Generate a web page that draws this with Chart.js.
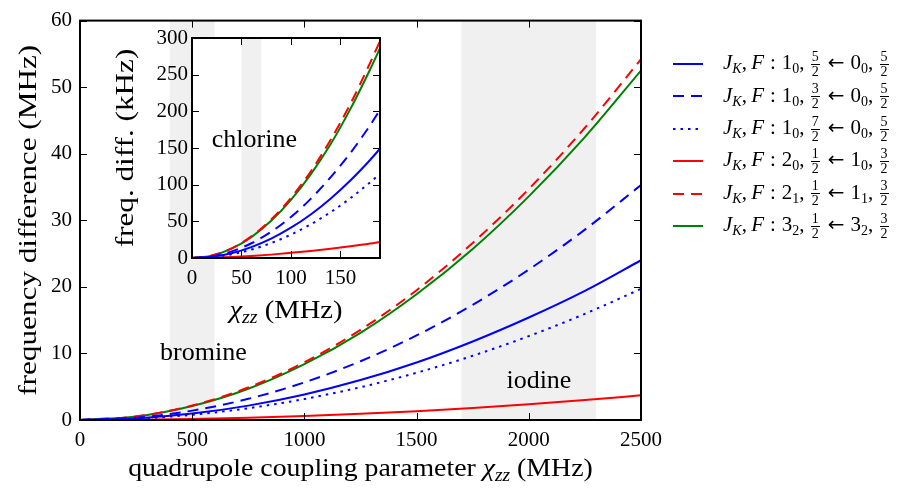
<!DOCTYPE html>
<html>
<head>
<meta charset="utf-8">
<script src="https://cdn.jsdelivr.net/npm/chart.js@4.4.1/dist/chart.umd.min.js"></script>
<style>
    body { margin: 0; background: #fff; }
    #wrap { position: relative; width: 901px; height: 491px; overflow: hidden; }
    #mainChart { position: absolute; left: 0; top: 0; }
    #insetChart { position: absolute; left: 110px; top: 20px; }
    #legend { position: absolute; left: 0; top: 0; font-family: 'Liberation Serif', serif; font-size: 21px; color: #000; }
    .row { position: absolute; left: 673px; height: 30px; display: flex; align-items: center; white-space: nowrap; }
    .row svg { width: 30px; height: 6px; margin-right: 20px; }
    .row sub { font-size: 14px; vertical-align: -4px; }
    .fr { display: inline-flex; flex-direction: column; align-items: center; font-size: 14px; line-height: 12px; vertical-align: middle; margin: 0 2px; }
    .fr span:first-child { border-bottom: 1px solid #000; padding: 0 1px 1px; }
    .fr span:last-child { padding-top: 1px; }
    .arr { font-family: 'DejaVu Sans', sans-serif; font-size: 20px; margin: 0 6px; }
    .col { margin: 0 6px; }
</style>
</head>
<body>
<div id="wrap">
    <canvas id="mainChart" width="901" height="491"></canvas>
    <canvas id="insetChart" width="285" height="305"></canvas>
    <div id="legend"></div>
</div>
<script>
// main plot: frequency difference (MHz) vs chi_zz (MHz)
const mainX = [0, 250, 500, 750, 1000, 1250, 1500, 1750, 2000, 2250, 2500];
const main10_52 = [0, 0.24, 0.96, 2.16, 3.84, 6.0, 8.64, 11.8, 15.4, 19.4, 24.0];
const main10_32 = [0, 0.35, 1.41, 3.18, 5.65, 8.83, 12.7, 17.3, 22.6, 28.6, 35.3];
const main10_72 = [0, 0.2, 0.79, 1.77, 3.15, 4.93, 7.1, 9.65, 12.6, 15.95, 19.7];
const main20_12 = [0, 0.04, 0.15, 0.33, 0.59, 0.93, 1.33, 1.81, 2.37, 3.0, 3.7];
const main21_12 = [0, 0.54, 2.17, 4.88, 8.67, 13.55, 19.5, 26.6, 34.7, 43.9, 54.2];
const main32_12 = [0, 0.52, 2.1, 4.7, 8.4, 13.1, 18.9, 25.7, 33.6, 42.5, 52.5];

// inset: frequency difference (kHz) for small chi_zz
const insetX = [0, 20, 40, 60, 80, 100, 120, 140, 160, 180, 190];
const inset10_52 = [0, 1.65, 6.6, 14.9, 26.4, 41.3, 59.4, 80.9, 105.7, 133.7, 149];
const inset10_32 = [0, 2.2, 9.0, 20.1, 35.8, 56, 80.6, 110, 143, 181, 202];
const inset10_72 = [0, 1.3, 5.1, 11.5, 20.4, 31.9, 45.9, 62.4, 81.5, 103.2, 115];
const inset20_12 = [0, 0.4, 1.3, 2.7, 4.6, 7.0, 9.6, 12.6, 16.0, 19.8, 22];
const inset21_12 = [0, 3.3, 13.1, 29.5, 52.5, 82, 118, 161, 210, 266, 296];
const inset32_12 = [0, 3.2, 12.7, 28.5, 50.7, 79.2, 114, 155, 203, 257, 286];

// transition labels
const upperJ = [1, 1, 1, 2, 2, 3];
const upperK = [0, 0, 0, 0, 1, 2];
const upperF = [[5, 2], [3, 2], [7, 2], [1, 2], [1, 2], [1, 2]];
const lowerJ = [0, 0, 0, 1, 1, 3];
const lowerK = [0, 0, 0, 0, 1, 2];
const lowerF = [[5, 2], [5, 2], [5, 2], [3, 2], [3, 2], [3, 2]];

// shaded nucleus ranges: from, to, name, label x, label y
const mainBands = [[400, 600, 'bromine', 550, 10], [1700, 2300, 'iodine', 2045, 5.9]];
const insetBands = [[50, 70, 'chlorine', 63, 161]];

const mainTicksX = [0, 500, 1000, 1500, 2000, 2500];
const mainTicksY = [0, 10, 20, 30, 40, 50, 60];
const insetTicksX = [0, 50, 100, 150];
const insetTicksY = [0, 50, 100, 150, 200, 250, 300];

const lineColors = ['#0000ff', '#0000ff', '#0000ff', '#ff0000', '#ff0000', '#008000'];
const lineDashes = [[], [11, 7], [2.5, 5], [], [11, 7], []];

const FONT = "'Liberation Serif', serif";
const TEXT_SIZE = 26;
Chart.defaults.font.family = FONT;
Chart.defaults.font.size = 21;
Chart.defaults.color = '#000';

function makeDatasets(xs, series) {
    return series.map((ys, i) => ({
        data: xs.map((x, j) => ({ x: x, y: ys[j] })),
        borderColor: lineColors[i],
        borderDash: lineDashes[i],
        borderWidth: 2,
        pointRadius: 0,
        cubicInterpolationMode: 'monotone',
        fill: false
    }));
}

// draw a run of text pieces (n = normal, i = italic, s = italic subscript), stretched along the text
function drawRuns(ctx, runs, cx, cy, stretch) {
    const fontOf = r => (r.s === 'n' ? '' : 'italic ') + (r.s === 's' ? TEXT_SIZE * 0.7 : TEXT_SIZE) + 'px ' + FONT;
    let total = 0;
    runs.forEach(r => { ctx.font = fontOf(r); total += ctx.measureText(r.t).width; });
    ctx.save();
    ctx.translate(cx, cy);
    ctx.scale(stretch, 1);
    let x = -total / 2;
    ctx.textAlign = 'left';
    ctx.textBaseline = 'alphabetic';
    runs.forEach(r => {
        ctx.font = fontOf(r);
        ctx.fillText(r.t, x, r.s === 's' ? 5 : 0);
        x += ctx.measureText(r.t).width;
    });
    ctx.restore();
}

// bands, white background, inward ticks, frame and axis titles
const framePlugin = {
    id: 'frame',
    beforeDatasetsDraw(chart, args, opts) {
        const { ctx, chartArea: a, scales: { x } } = chart;
        ctx.save();
        if (opts.white) {
            ctx.fillStyle = '#fff';
            ctx.fillRect(a.left, a.top, a.right - a.left, a.bottom - a.top);
        }
        ctx.beginPath();
        ctx.rect(a.left, a.top, a.right - a.left, a.bottom - a.top);
        ctx.clip();
        ctx.fillStyle = '#f0f0f0';
        opts.bands.forEach(b => {
            const x0 = x.getPixelForValue(b[0]);
            const x1 = x.getPixelForValue(b[1]);
            ctx.fillRect(x0, a.top, x1 - x0, a.bottom - a.top);
        });
        ctx.restore();
    },
    afterDatasetsDraw(chart, args, opts) {
        const { ctx, chartArea: a, scales: { x, y } } = chart;
        ctx.save();
        ctx.fillStyle = '#000';
        ctx.font = TEXT_SIZE + 'px ' + FONT;
        ctx.textAlign = 'center';
        ctx.textBaseline = 'middle';
        opts.bands.forEach(b => {
            ctx.fillText(b[2], x.getPixelForValue(b[3]), y.getPixelForValue(b[4]));
        });
        ctx.strokeStyle = '#000';
        ctx.lineWidth = 1;
        const tl = 7;
        ctx.beginPath();
        opts.ticksX.forEach(v => {
            const px = Math.round(x.getPixelForValue(v)) + 0.5;
            ctx.moveTo(px, a.bottom); ctx.lineTo(px, a.bottom - tl);
            ctx.moveTo(px, a.top); ctx.lineTo(px, a.top + tl);
        });
        opts.ticksY.forEach(v => {
            const py = Math.round(y.getPixelForValue(v)) + 0.5;
            ctx.moveTo(a.left, py); ctx.lineTo(a.left + tl, py);
            ctx.moveTo(a.right, py); ctx.lineTo(a.right - tl, py);
        });
        ctx.stroke();
        ctx.lineWidth = 2;
        ctx.strokeRect(a.left, a.top, a.right - a.left, a.bottom - a.top);

        // axis titles
        drawRuns(ctx, opts.xTitle, (a.left + a.right) / 2, opts.xTitleY, opts.xStretch);
        ctx.translate(opts.yTitleX, (a.top + a.bottom) / 2);
        ctx.rotate(-Math.PI / 2);
        drawRuns(ctx, opts.yTitle, 0, 0, opts.yStretch);
        ctx.restore();
    }
};

function axisOptions(min, max, ticks, labelPad, size, horizontal) {
    return {
        type: 'linear',
        min: min,
        max: max,
        afterBuildTicks: s => { s.ticks = ticks.map(v => ({ value: v })); },
        afterFit: s => { if (horizontal) s.height = size; else s.width = size; },
        grid: { display: false, drawTicks: false },
        border: { display: false },
        ticks: { padding: labelPad, maxRotation: 0, autoSkip: false, callback: v => String(v) }
    };
}

new Chart(document.getElementById('mainChart'), {
    type: 'line',
    data: { datasets: makeDatasets(mainX, [main10_52, main10_32, main10_72, main20_12, main21_12, main32_12]) },
    plugins: [framePlugin],
    options: {
        responsive: false,
        animation: false,
        layout: { padding: { left: 0, right: 260, top: 15, bottom: 0 } },
        plugins: {
            legend: { display: false },
            tooltip: { enabled: false },
            frame: {
                bands: mainBands, ticksX: mainTicksX, ticksY: mainTicksY, white: false,
                xTitle: [{ t: 'quadrupole coupling parameter ', s: 'n' }, { t: '\u03C7', s: 'i' }, { t: 'zz', s: 's' }, { t: ' (MHz)', s: 'n' }],
                xTitleY: 476, xStretch: 1.07,
                yTitle: [{ t: 'frequency difference (MHz)', s: 'n' }],
                yTitleX: 36, yStretch: 1.2
            }
        },
        scales: {
            x: axisOptions(0, 2500, mainTicksX, 8, 71, true),
            y: axisOptions(0, 60, mainTicksY, 8, 80, false)
        }
    }
});

new Chart(document.getElementById('insetChart'), {
    type: 'line',
    data: { datasets: makeDatasets(insetX, [inset10_52, inset10_32, inset10_72, inset20_12, inset21_12, inset32_12]) },
    plugins: [framePlugin],
    options: {
        responsive: false,
        animation: false,
        layout: { padding: { left: 0, right: 15, top: 18, bottom: 0 } },
        plugins: {
            legend: { display: false },
            tooltip: { enabled: false },
            frame: {
                bands: insetBands, ticksX: insetTicksX, ticksY: insetTicksY, white: true,
                xTitle: [{ t: '\u03C7', s: 'i' }, { t: 'zz', s: 's' }, { t: ' (MHz)', s: 'n' }],
                xTitleY: 298, xStretch: 1.1,
                yTitle: [{ t: 'freq. diff. (kHz)', s: 'n' }],
                yTitleX: 23, yStretch: 1.2
            }
        },
        scales: {
            x: axisOptions(0, 190, insetTicksX, 8, 67, true),
            y: axisOptions(0, 300, insetTicksY, 4, 82, false)
        }
    }
});

// legend built from the transition arrays
function frac(f) {
    return '<span class="fr"><span>' + f[0] + '</span><span>' + f[1] + '</span></span>';
}
const legend = document.getElementById('legend');
upperJ.forEach((j, i) => {
    const row = document.createElement('div');
    row.className = 'row';
    row.style.top = (49 + i * 32.4) + 'px';
    const dash = lineDashes[i].length ? lineDashes[i].join(' ') : 'none';
    row.innerHTML =
        '<svg viewBox="0 0 30 6"><line x1="0" y1="3" x2="30" y2="3" stroke="' + lineColors[i] +
        '" stroke-width="2" stroke-dasharray="' + dash + '"/></svg>' +
        '<span><i>J</i><sub><i>K</i></sub>,&thinsp;<i>F</i><span class="col">:</span>' + j + '<sub>' + upperK[i] + '</sub>,&thinsp;' +
        frac(upperF[i]) + '<span class="arr">\u2190</span>' + lowerJ[i] + '<sub>' + lowerK[i] + '</sub>,&thinsp;' + frac(lowerF[i]) + '</span>';
    legend.appendChild(row);
});
</script>
</body>
</html>
